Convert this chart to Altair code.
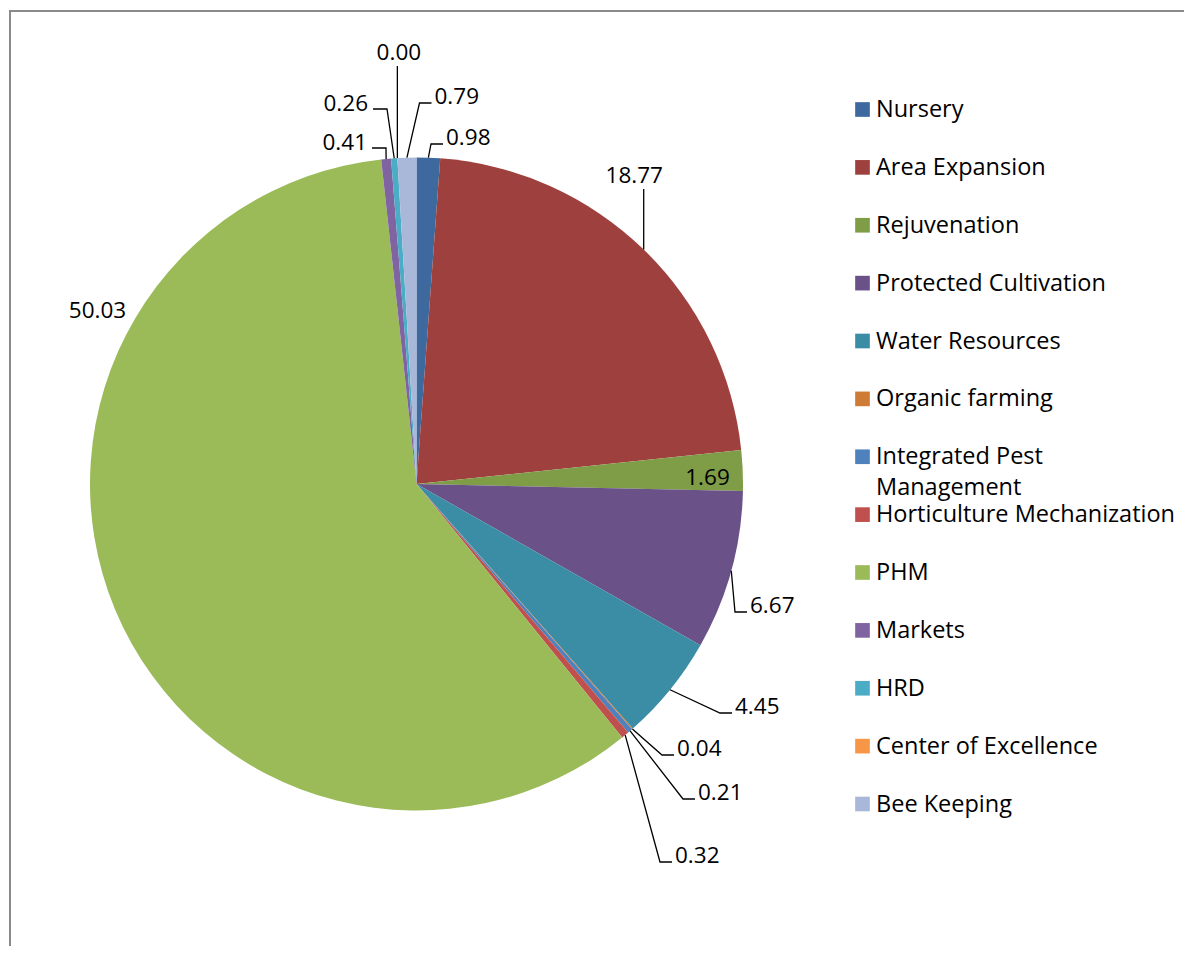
import math
import altair as alt
import pandas as pd

# ---------------- data ----------------
categories = [
    "Nursery", "Area Expansion", "Rejuvenation", "Protected Cultivation",
    "Water Resources", "Organic farming", "Integrated Pest Management",
    "Horticulture Mechanization", "PHM", "Markets", "HRD",
    "Center of Excellence", "Bee Keeping",
]
values = [0.98, 18.77, 1.69, 6.67, 4.45, 0.04, 0.21, 0.32, 50.03, 0.41, 0.26, 0.00, 0.79]
colors = [
    "#3D699E", "#9E413E", "#7F9C47", "#6A5289", "#3A8DA4", "#CE7B36",
    "#4F81BD", "#C0504D", "#9BBB59", "#8064A2", "#4BACC6", "#F79646", "#A9B8D9",
]
legend_text = ["Integrated Pest\nManagement" if c == "Integrated Pest Management" else c
               for c in categories]

# ---------------- layout ----------------
W, H = 1176, 938
CX, CY = 408.5, 476.0          # pie centre in chart pixels
RADIUS = 326.5
FONT = "Open Sans"

# label placement (offsets from the pie centre, Excel-like manual layout)
# kind R: text right of leader end, L: text left of leader end,
# U: vertical leader, text above; I/O: no leader
label_layout = [
    ("R", 26.5, -340), ("U", -295, -9.5), ("I", 291, 1), ("R", 330.5, 128),
    ("R", 315.5, 229), ("R", 257.5, 271), ("R", 278.5, 315), ("R", 255.5, 378),
    ("O", -319, -166), ("L", -44.5, -336), ("L", -43.5, -375), ("U", -418, 1.5),
    ("R", 15, -381),
]

total = sum(values)
pie_df = pd.DataFrame({"cat": categories, "value": values, "idx": range(len(categories)),
                       "ltxt": legend_text})

lab_rows, lead_rows = [], []
cum = 0.0
for i, (c, v) in enumerate(zip(categories, values)):
    mid = (cum + v / 2) / total * 2 * math.pi
    cum += v
    p0 = (RADIUS * math.sin(mid), -RADIUS * math.cos(mid))
    kind, a, b = label_layout[i]
    if kind == "R":
        pts = [p0, (a - 12, b), (a, b)]
        lab_rows.append(dict(cat=c, value=v, tx=a + 3, ty=b + 1, align="left"))
    elif kind == "L":
        pts = [p0, (a + 14, b), (a, b)]
        lab_rows.append(dict(cat=c, value=v, tx=a - 5, ty=b + 1.5, align="right"))
    elif kind == "U":
        pts = [p0, (p0[0], a)]
        lab_rows.append(dict(cat=c, value=v, tx=p0[0] + b, ty=a - 6, align="center"))
    else:
        pts = []
        lab_rows.append(dict(cat=c, value=v, tx=a, ty=b, align="center"))
    for k, (x, y) in enumerate(pts):
        lead_rows.append(dict(cat=c, pt=k, x=x, y=y))

lab_df = pd.DataFrame(lab_rows)
lead_df = pd.DataFrame(lead_rows)

XS = alt.Scale(domain=[-CX, W - CX], nice=False, zero=False)
YS = alt.Scale(domain=[-CY, H - CY], nice=False, zero=False, reverse=True)

color_enc = alt.Color("cat:N", scale=alt.Scale(domain=categories, range=colors), legend=None)

pie = alt.Chart(pie_df).mark_arc(outerRadius=RADIUS).encode(
    theta=alt.Theta("value:Q", stack=True),
    color=color_enc,
    order=alt.Order("idx:Q"),
    x=alt.datum(0, scale=XS, axis=None),
    y=alt.datum(0, scale=YS, axis=None),
)

leaders = alt.Chart(lead_df).mark_line(color="black", strokeWidth=1.3).encode(
    x=alt.X("x:Q", scale=XS, axis=None),
    y=alt.Y("y:Q", scale=YS, axis=None),
    detail="cat:N",
    order="pt:Q",
)

def label_layer(al):
    return alt.Chart(lab_df).transform_filter(alt.datum.align == al).mark_text(
        align=al, baseline="alphabetic", font=FONT, fontSize=22.5, color="black"
    ).encode(
        x=alt.X("tx:Q", scale=XS, axis=None),
        y=alt.Y("ty:Q", scale=YS, axis=None),
        text=alt.Text("value:Q", format=".2f"),
    )

LEG_Y = alt.Scale(domain=categories, range=[101.5, 796], padding=0)

leg_sq = alt.Chart(pie_df).mark_square(size=215, opacity=1).encode(
    x=alt.datum(446, scale=XS, axis=None),
    y=alt.Y("cat:N", scale=LEG_Y, axis=None),
    color=color_enc,
)
leg_txt = alt.Chart(pie_df).mark_text(
    align="left", baseline="alphabetic", dy=7.5, font=FONT, fontSize=23.5,
    color="black", lineBreak="\n", lineHeight=31,
).encode(
    x=alt.datum(459.5, scale=XS, axis=None),
    y=alt.Y("cat:N", scale=LEG_Y, axis=None),
    text="ltxt:N",
)

frame_df = pd.DataFrame({"a": [0]})
frame_top = alt.Chart(frame_df).mark_rule(color="#8a8a8a", strokeWidth=2).encode(
    x=alt.value(1), x2=alt.value(W), y=alt.value(3))
frame_left = alt.Chart(frame_df).mark_rule(color="#8a8a8a", strokeWidth=2).encode(
    x=alt.value(2), y=alt.value(2), y2=alt.value(H))

chart = alt.layer(
    pie, leaders, label_layer("left"), label_layer("right"), label_layer("center"),
    leg_sq, leg_txt, frame_top, frame_left,
).resolve_scale(y="independent").properties(
    width=W, height=H, padding=0, autosize="none",
).configure_view(stroke=None)

chart.save("out.html", embed_options={"renderer": "svg", "actions": False})
